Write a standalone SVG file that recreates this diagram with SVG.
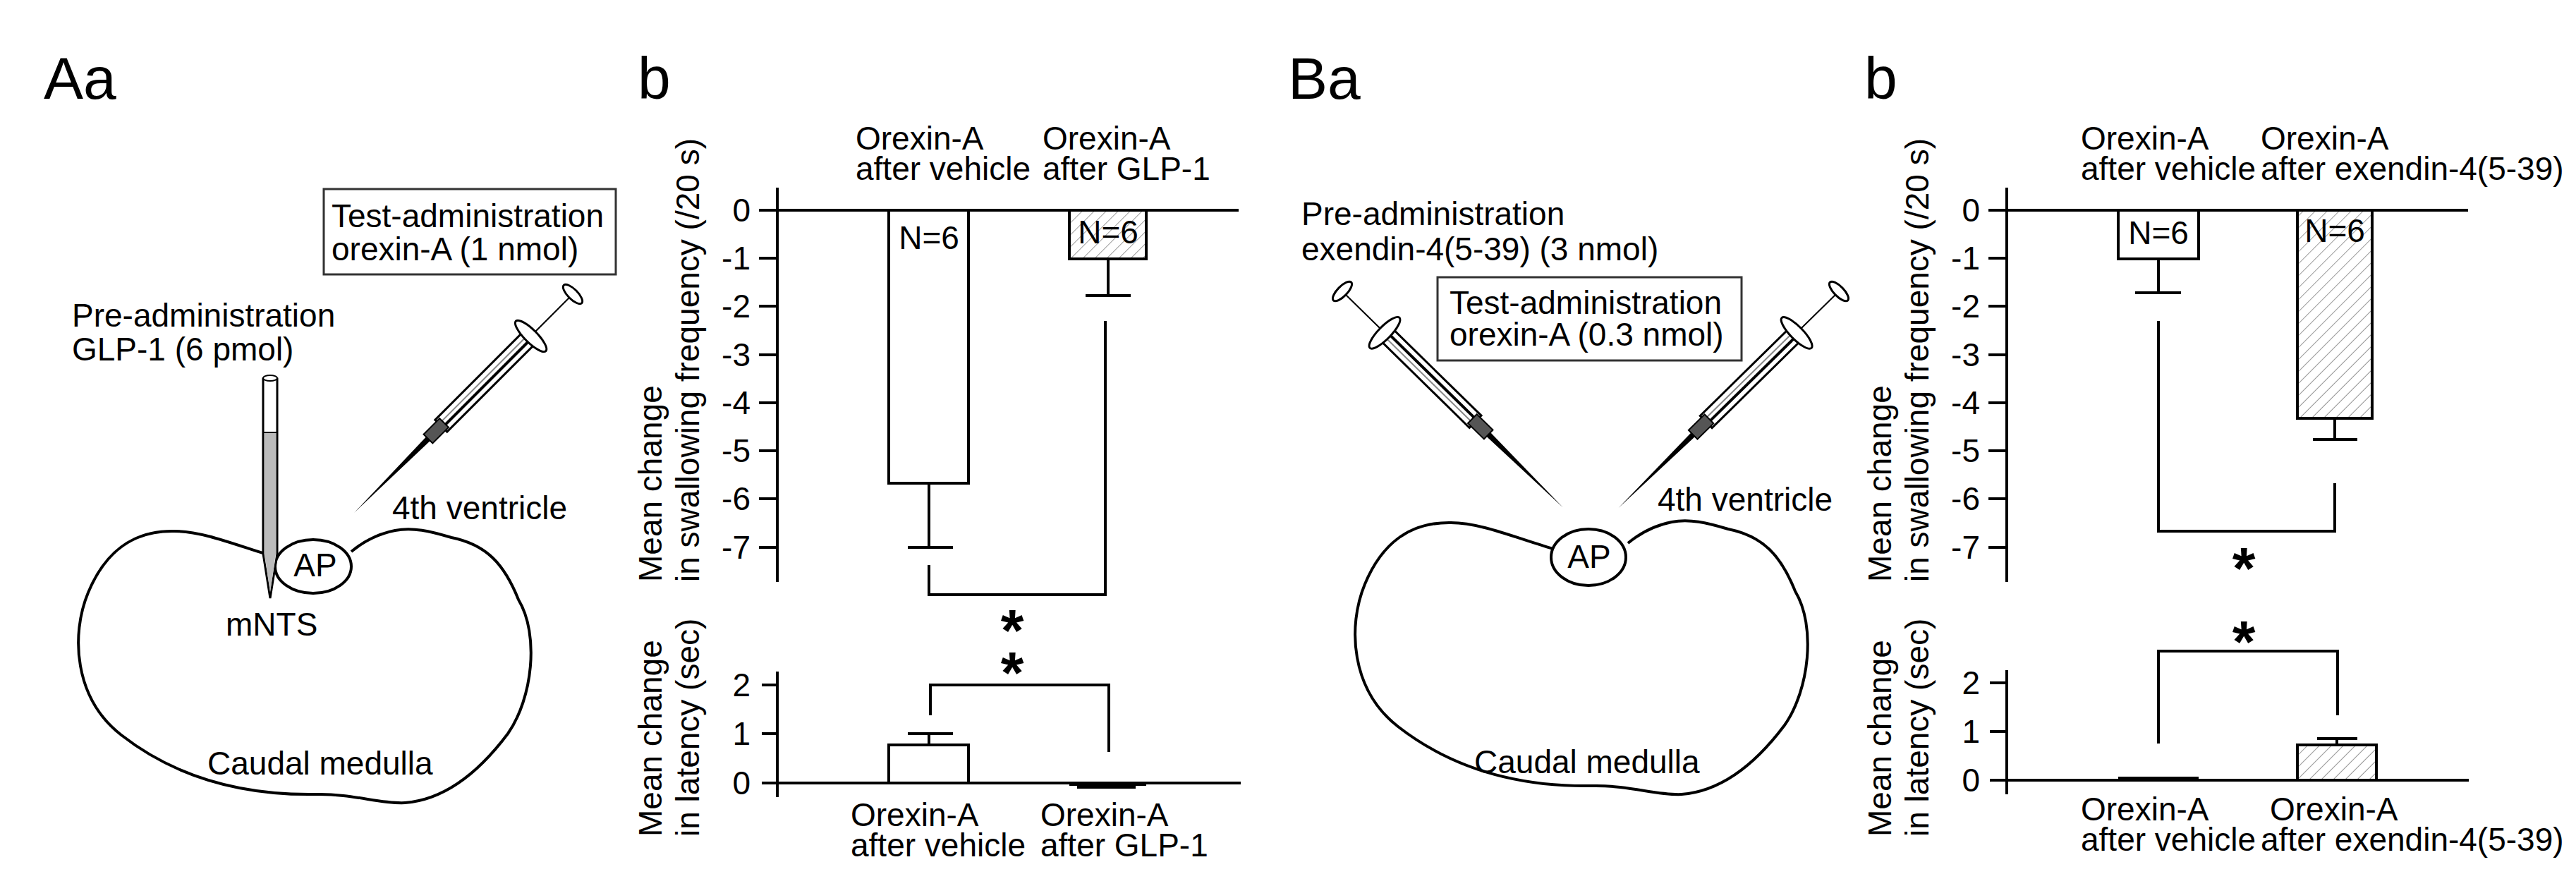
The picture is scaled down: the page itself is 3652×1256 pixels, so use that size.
<svg xmlns="http://www.w3.org/2000/svg" width="3652" height="1256" viewBox="0 0 3652 1256">
<style>
text{font-family:"Liberation Sans",Arial,sans-serif;fill:#000}
.lbl{font-size:46px}
.tick{font-size:46px;text-anchor:end}
.big{font-size:84px}
.star{font-size:84px;font-weight:bold;text-anchor:middle}
.mid{text-anchor:middle}
.ax{stroke:#000;stroke-width:4;fill:none}
.bar{stroke:#000;stroke-width:4;fill:#fff}
.hb{stroke:#000;stroke-width:4;fill:url(#hatch)}
.ol{stroke:#000;stroke-width:4;fill:#fff}
.box{stroke:#333;stroke-width:3;fill:#fff}
</style>
<defs>
<pattern id="hatch" patternUnits="userSpaceOnUse" width="12" height="12" patternTransform="rotate(45)">
<rect width="12" height="12" fill="#fff"/><line x1="0" y1="0" x2="0" y2="12" stroke="#999" stroke-width="2"/>
</pattern>
<g id="syringe">
<line x1="0" y1="0" x2="90" y2="0" stroke="#000" stroke-width="2"/>
<ellipse cx="0" cy="0" rx="7" ry="18" fill="#fff" stroke="#000" stroke-width="3"/>
<rect x="84" y="-12" width="180" height="24" fill="#fff" stroke="#000" stroke-width="3"/>
<line x1="84" y1="-3" x2="264" y2="-3" stroke="#000" stroke-width="4"/>
<line x1="84" y1="4" x2="264" y2="4" stroke="#888" stroke-width="2"/>
<ellipse cx="84" cy="0" rx="9" ry="30" fill="#fff" stroke="#000" stroke-width="3"/>
<rect x="258" y="-9" width="32" height="18" fill="#555" stroke="#000" stroke-width="2"/>
<polygon points="290,-4 438,0 290,4" fill="#000"/>
</g>
<path id="medulla" d="M 392,790 C 340,775 290,753 247,753 C 190,752 150,780 125,840 C 100,900 105,990 172,1042 C 240,1095 330,1128 448,1126 C 500,1125 540,1140 574,1138 C 640,1133 690,1080 720,1040 C 755,990 765,900 735,850 C 715,800 690,772 640,762 C 610,753 585,747 560,752 C 530,758 510,772 498,782"/>
</defs>

<g id="panelAa">
<text class="big" x="62" y="140">Aa</text>
<use href="#medulla" class="ol"/>
<ellipse cx="444" cy="803" rx="54" ry="38" class="ol"/>
<text class="lbl mid" x="447" y="817">AP</text>
<text class="lbl" x="320" y="901">mNTS</text>
<text class="lbl" x="294" y="1098">Caudal medulla</text>
<text class="lbl" x="556" y="736">4th ventricle</text>
<text class="lbl" x="102" y="463">Pre-administration</text>
<text class="lbl" x="102" y="511">GLP-1 (6 pmol)</text>
<rect class="box" x="459" y="268" width="414" height="121"/>
<text class="lbl" x="470" y="322">Test-administration</text>
<text class="lbl" x="470" y="369">orexin-A (1 nmol)</text>
<g id="pipette">
<polygon points="373,537 373,785 383,848 393,785 393,537" fill="#fff" stroke="#000" stroke-width="3"/>
<polygon points="375,613 375,785 383,840 391,785 391,613" fill="#bbb"/>
<line x1="373" y1="613" x2="393" y2="613" stroke="#000" stroke-width="2"/>
<ellipse cx="383" cy="536" rx="10" ry="4" fill="#fff" stroke="#000" stroke-width="2"/>
</g>
<use href="#syringe" transform="translate(812,417) rotate(135)"/>
</g>

<g id="panelAb">
<text class="big" x="904" y="140">b</text>
<text class="lbl" x="1213" y="212">Orexin-A</text>
<text class="lbl" x="1213" y="255">after vehicle</text>
<text class="lbl" x="1478" y="212">Orexin-A</text>
<text class="lbl" x="1478" y="255">after GLP-1</text>
<rect class="bar" x="1260" y="298" width="113" height="387"/>
<rect class="hb" x="1516" y="298" width="109" height="69"/>
<text class="lbl mid" x="1317" y="353">N=6</text>
<text class="lbl mid" x="1571" y="345">N=6</text>
<path class="ax" d="M1317,685 V776 M1287,776 H1351 M1571,367 V419 M1539,419 H1603"/>
<path class="ax" d="M1102,266 V825 M1076,298 H1756 M1076,366 H1102 M1076,434 H1102 M1076,503 H1102 M1076,571 H1102 M1076,639 H1102 M1076,707 H1102 M1076,776 H1102"/>
<g class="tick">
<text class="tick" x="1064" y="314">0</text><text class="tick" x="1064" y="382">-1</text><text class="tick" x="1064" y="450">-2</text><text class="tick" x="1064" y="519">-3</text><text class="tick" x="1064" y="587">-4</text><text class="tick" x="1064" y="655">-5</text><text class="tick" x="1064" y="723">-6</text><text class="tick" x="1064" y="792">-7</text>
</g>
<text class="lbl" transform="translate(938,825) rotate(-90)"><tspan x="0" y="0">Mean change</tspan><tspan x="0" y="53">in swallowing frequency (/20 s)</tspan></text>
<path class="ax" d="M1317,801 V843 H1567 V455"/>
<text class="star" x="1435" y="923">*</text>
<text class="star" x="1435" y="983">*</text>
<path class="ax" d="M1319,1014 V971 H1572 V1066"/>
<rect class="bar" x="1260" y="1056" width="113" height="54"/>
<path class="ax" d="M1317,1056 V1040 M1287,1040 H1351"/>
<rect x="1516" y="1110" width="109" height="4" fill="#000"/>
<path class="ax" d="M1571,1110 V1116 M1527,1116 H1610"/>
<path class="ax" d="M1102,952 V1130 M1080,1110 H1759 M1080,971 H1102 M1080,1040 H1102"/>
<text class="tick" x="1064" y="987">2</text><text class="tick" x="1064" y="1056">1</text><text class="tick" x="1064" y="1126">0</text>
<text class="lbl" transform="translate(938,1186) rotate(-90)"><tspan x="0" y="0">Mean change</tspan><tspan x="0" y="53">in latency (sec)</tspan></text>
<text class="lbl" x="1206" y="1171">Orexin-A</text>
<text class="lbl" x="1206" y="1214">after vehicle</text>
<text class="lbl" x="1475" y="1171">Orexin-A</text>
<text class="lbl" x="1475" y="1214">after GLP-1</text>
</g>

<g id="panelBa">
<text class="big" x="1826" y="140">Ba</text>
<use href="#medulla" class="ol" transform="translate(1810,-12)"/>
<ellipse cx="2252" cy="790" rx="53" ry="40" class="ol"/>
<text class="lbl mid" x="2253" y="805">AP</text>
<text class="lbl" x="2090" y="1096">Caudal medulla</text>
<text class="lbl" x="2350" y="724">4th ventricle</text>
<text class="lbl" x="1845" y="319">Pre-administration</text>
<text class="lbl" x="1845" y="369">exendin-4(5-39) (3 nmol)</text>
<rect class="box" x="2038" y="393" width="431" height="118"/>
<text class="lbl" x="2055" y="445">Test-administration</text>
<text class="lbl" x="2055" y="490">orexin-A (0.3 nmol)</text>
<use href="#syringe" transform="translate(1903,413) rotate(44.4)"/>
<use href="#syringe" transform="translate(2607,413) rotate(135.5)"/>
</g>

<g id="panelBb">
<text class="big" x="2643" y="140">b</text>
<text class="lbl" x="2950" y="212">Orexin-A</text>
<text class="lbl" x="2950" y="255">after vehicle</text>
<text class="lbl" x="3205" y="212">Orexin-A</text>
<text class="lbl" x="3205" y="255">after exendin-4(5-39)</text>
<rect class="bar" x="3003" y="298" width="114" height="69"/>
<rect class="hb" x="3257" y="298" width="106" height="295"/>
<text class="lbl mid" x="3060" y="346">N=6</text>
<text class="lbl mid" x="3310" y="343">N=6</text>
<path class="ax" d="M3060,367 V415 M3027,415 H3092 M3310,593 V623 M3279,623 H3342"/>
<path class="ax" d="M2845,266 V825 M2819,298 H3499 M2819,366 H2845 M2819,434 H2845 M2819,503 H2845 M2819,571 H2845 M2819,639 H2845 M2819,707 H2845 M2819,776 H2845"/>
<text class="tick" x="2807" y="314">0</text><text class="tick" x="2807" y="382">-1</text><text class="tick" x="2807" y="450">-2</text><text class="tick" x="2807" y="519">-3</text><text class="tick" x="2807" y="587">-4</text><text class="tick" x="2807" y="655">-5</text><text class="tick" x="2807" y="723">-6</text><text class="tick" x="2807" y="792">-7</text>
<text class="lbl" transform="translate(2681,825) rotate(-90)"><tspan x="0" y="0">Mean change</tspan><tspan x="0" y="53">in swallowing frequency (/20 s)</tspan></text>
<path class="ax" d="M3060,455 V753 H3310 V685"/>
<text class="star" x="3181" y="835">*</text>
<text class="star" x="3181" y="939">*</text>
<path class="ax" d="M3060,1054 V923 H3314 V1014"/>
<rect x="3003" y="1101" width="114" height="5" fill="#000"/>
<rect class="hb" x="3257" y="1056" width="112" height="50"/>
<path class="ax" d="M3313,1056 V1047 M3285,1047 H3342"/>
<path class="ax" d="M2845,950 V1126 M2821,1106 H3500 M2821,968 H2845 M2821,1037 H2845"/>
<text class="tick" x="2807" y="984">2</text><text class="tick" x="2807" y="1053">1</text><text class="tick" x="2807" y="1122">0</text>
<text class="lbl" transform="translate(2681,1186) rotate(-90)"><tspan x="0" y="0">Mean change</tspan><tspan x="0" y="53">in latency (sec)</tspan></text>
<text class="lbl" x="2950" y="1163">Orexin-A</text>
<text class="lbl" x="2950" y="1206">after vehicle</text>
<text class="lbl" x="3218" y="1163">Orexin-A</text>
<text class="lbl" x="3205" y="1206">after exendin-4(5-39)</text>
</g>
</svg>
